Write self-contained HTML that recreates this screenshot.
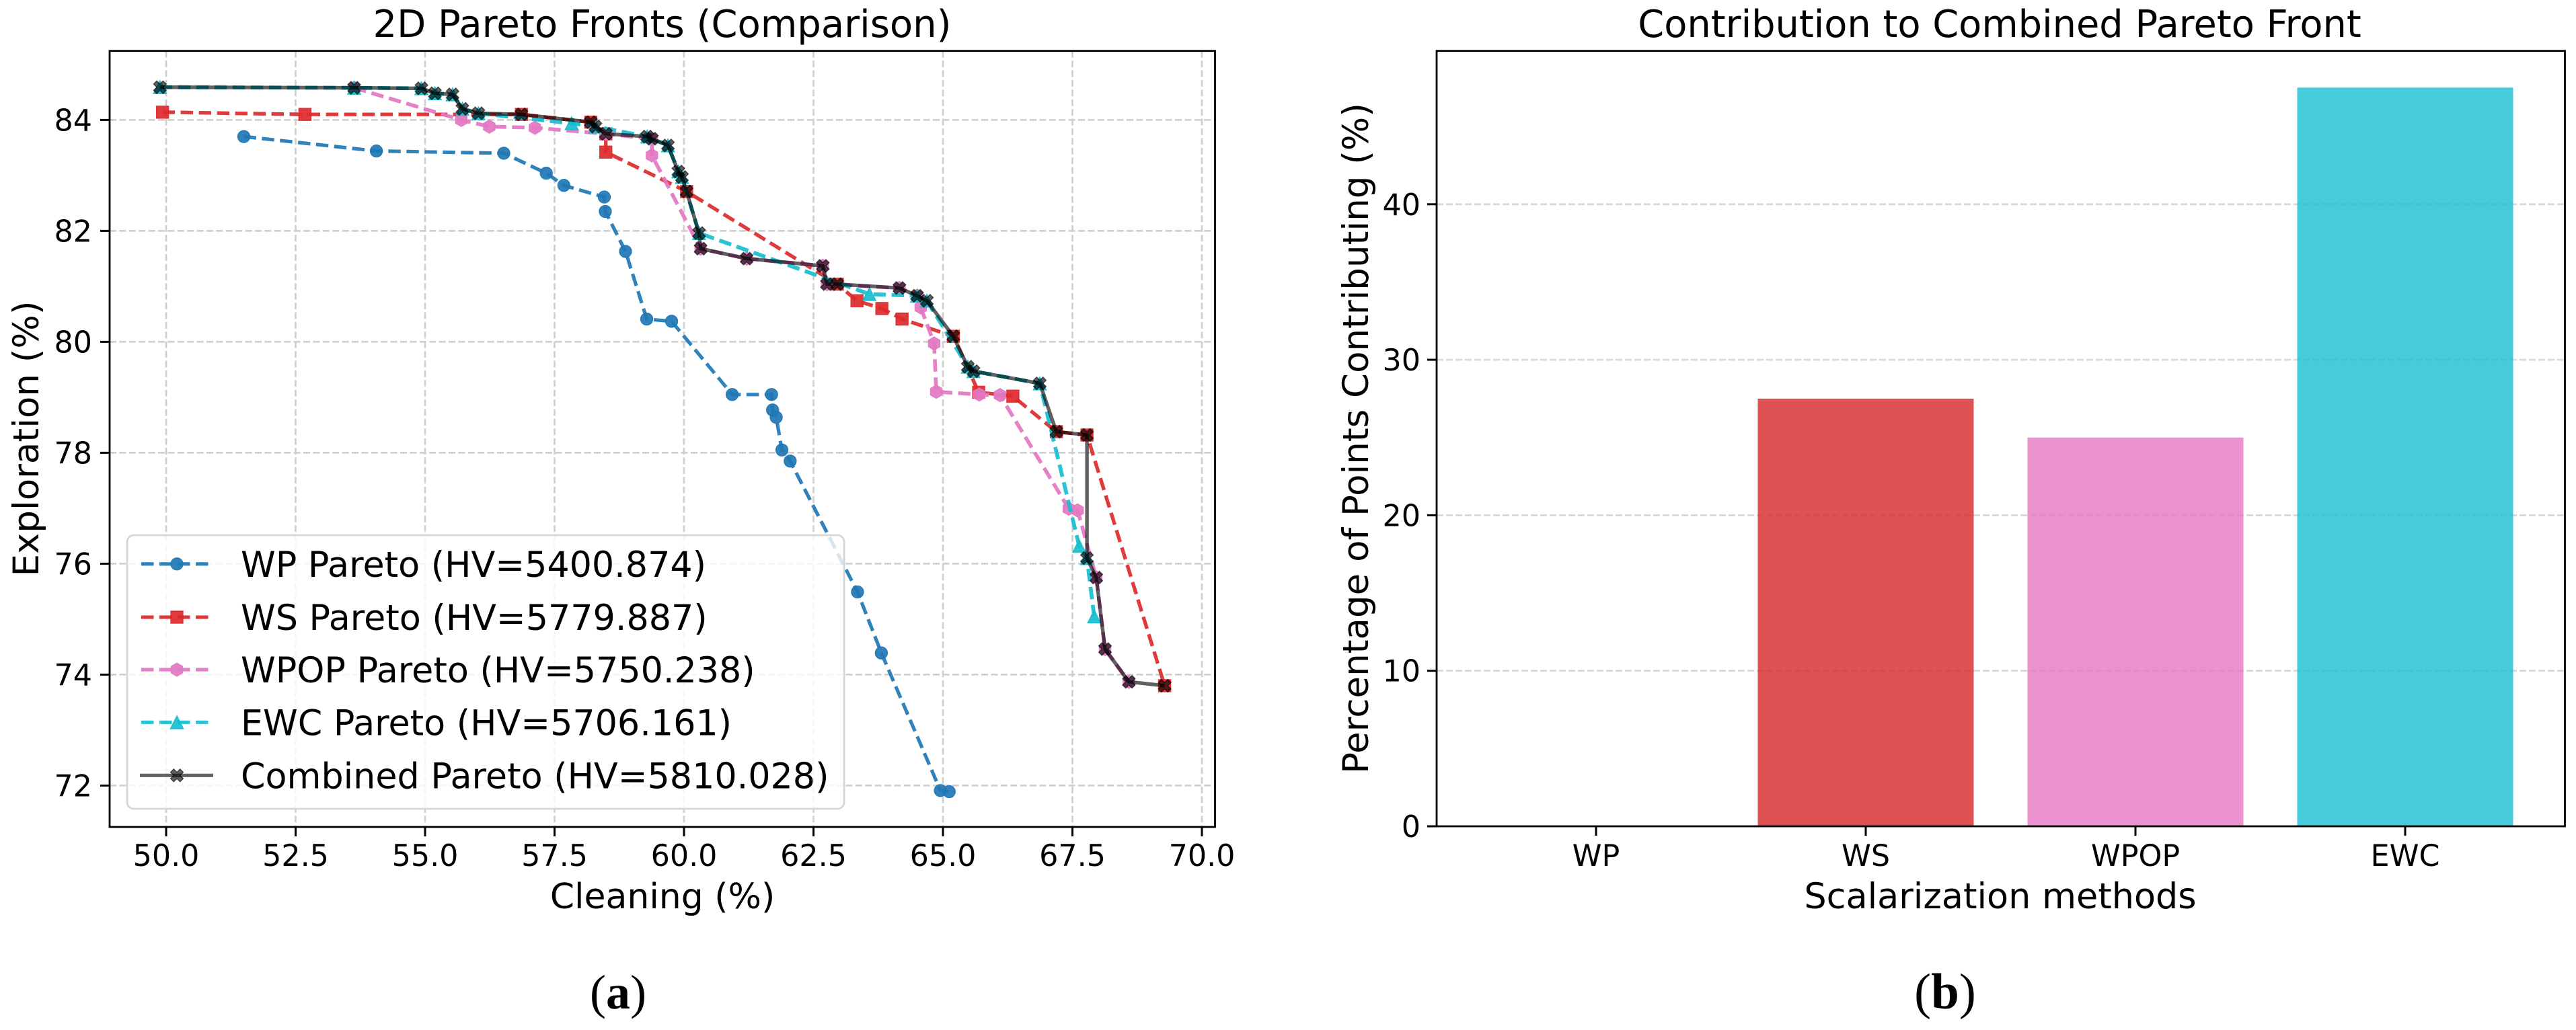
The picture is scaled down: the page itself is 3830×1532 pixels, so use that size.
<!DOCTYPE html>
<html lang="en">
<head>
<meta charset="utf-8">
<title>Pareto Fronts Comparison</title>
<style>
html,body{margin:0;padding:0;background:#fff;}
svg{display:block;font-family:"DejaVu Sans","Liberation Sans",sans-serif;}
</style>
</head>
<body>
<svg id="fig" xmlns="http://www.w3.org/2000/svg" width="3830" height="1532" viewBox="0 0 3830 1532">
  <rect width="3830" height="1532" fill="#fff"/>
  <g id="left"></g>
  <g id="right"></g>
  <text x="919" y="1500" text-anchor="middle" font-size="72" style="font-family:'Liberation Serif',serif">(<tspan font-weight="bold">a</tspan>)</text>
  <text x="2892" y="1500" text-anchor="middle" font-size="75" style="font-family:'Liberation Serif',serif">(<tspan font-weight="bold">b</tspan>)</text>
</svg>
<script>
// ---------- Chart data ----------
const xTickValues = [50, 52.5, 55, 57.5, 60, 62.5, 65, 67.5, 70];
const xTickLabels = ["50.0", "52.5", "55.0", "57.5", "60.0", "62.5", "65.0", "67.5", "70.0"];
const yTickValues = [72, 74, 76, 78, 80, 82, 84];
const yTickLabels = ["72", "74", "76", "78", "80", "82", "84"];

const wpCleaning = [51.50, 54.06, 56.52, 57.34, 57.68, 58.46, 58.48, 58.87, 59.28, 59.76, 60.93, 61.69, 61.71, 61.78, 61.89, 62.05, 63.35, 63.81, 64.95, 65.12];
const wpExploration = [83.70, 83.44, 83.40, 83.04, 82.82, 82.61, 82.35, 81.63, 80.41, 80.37, 79.05, 79.05, 78.77, 78.64, 78.05, 77.85, 75.49, 74.39, 71.91, 71.89];

const wsCleaning = [49.93, 52.68, 56.86, 58.20, 58.49, 58.49, 60.05, 62.96, 63.34, 63.82, 64.21, 65.20, 65.69, 66.35, 67.19, 67.78, 69.28];
const wsExploration = [84.14, 84.10, 84.10, 83.96, 83.75, 83.42, 82.71, 81.04, 80.74, 80.60, 80.41, 80.10, 79.09, 79.02, 78.38, 78.32, 73.80];

const wpopCleaning = [53.63, 55.70, 56.24, 57.12, 58.49, 59.38, 59.38, 60.32, 61.21, 62.68, 62.76, 64.16, 64.50, 64.57, 64.83, 64.87, 65.70, 66.10, 67.43, 67.60, 67.96, 68.13, 68.59];
const wpopExploration = [84.58, 84.00, 83.88, 83.86, 83.75, 83.66, 83.36, 81.68, 81.50, 81.37, 81.04, 80.97, 80.83, 80.62, 79.97, 79.10, 79.05, 79.04, 76.99, 76.96, 75.75, 74.46, 73.87];

const ewcCleaning = [49.88, 53.63, 54.93, 55.19, 55.53, 55.72, 56.03, 57.83, 58.29, 59.29, 59.69, 59.89, 59.96, 60.29, 63.58, 64.50, 64.69, 65.48, 65.59, 66.87, 67.63, 67.78, 67.92];
const ewcExploration = [84.59, 84.58, 84.57, 84.48, 84.46, 84.20, 84.12, 83.94, 83.88, 83.70, 83.54, 83.07, 82.97, 81.96, 80.86, 80.83, 80.74, 79.55, 79.47, 79.25, 76.32, 76.10, 75.05];

const combinedCleaning = [49.88, 53.63, 54.93, 55.19, 55.53, 55.72, 56.03, 56.86, 58.20, 58.29, 58.49, 59.29, 59.38, 59.69, 59.89, 59.96, 60.05, 60.29, 60.32, 61.21, 62.68, 62.76, 62.96, 64.16, 64.50, 64.69, 65.20, 65.48, 65.59, 66.87, 67.19, 67.78, 67.78, 67.96, 68.13, 68.59, 69.28];
const combinedExploration = [84.59, 84.58, 84.57, 84.48, 84.46, 84.20, 84.12, 84.10, 83.96, 83.88, 83.75, 83.70, 83.66, 83.54, 83.07, 82.97, 82.71, 81.96, 81.68, 81.50, 81.37, 81.04, 81.04, 80.97, 80.83, 80.74, 80.10, 79.55, 79.47, 79.25, 78.38, 78.32, 76.10, 75.75, 74.46, 73.87, 73.80];

const legendLabels = ["WP Pareto (HV=5400.874)", "WS Pareto (HV=5779.887)", "WPOP Pareto (HV=5750.238)", "EWC Pareto (HV=5706.161)", "Combined Pareto (HV=5810.028)"];

const barCategories = ["WP", "WS", "WPOP", "EWC"];
const barValues = [0, 27.5, 25, 47.5];
const barYTickValues = [0, 10, 20, 30, 40];
const barYTickLabels = ["0", "10", "20", "30", "40"];

// ---------- Helpers ----------
const NS = "http://www.w3.org/2000/svg";
const leftG = document.getElementById("left");
const rightG = document.getElementById("right");

function mk(parent, tag, attrs, content) {
  const el = document.createElementNS(NS, tag);
  for (const k in attrs) el.setAttribute(k, attrs[k]);
  if (content !== undefined) el.textContent = content;
  parent.appendChild(el);
  return el;
}
function named(el, name) {
  
  
  return el;
}

// ---------- Left axes ----------
const L = { left: 163, right: 1806.5, top: 75.7, bottom: 1230 };
function xScale(v) { return 247 + (v - 50) * 77; }
function yScale(v) { return 178.4 + (84 - v) * 82.5; }

const GRID_L = { stroke: "#d0d0d0", "stroke-width": 2.7, "stroke-dasharray": "10 4.4", fill: "none" };
const GRID_R = { stroke: "#d9d9d9", "stroke-width": 2.8, "stroke-dasharray": "10 4", fill: "none" };

xTickValues.forEach((v, i) => {
  const px = xScale(v);
  named(mk(leftG, "line", Object.assign({ x1: px, x2: px, y1: L.top, y2: L.bottom }, GRID_L)), "x-gridline");
  named(mk(leftG, "line", { x1: px, x2: px, y1: L.bottom, y2: L.bottom + 14, stroke: "#000", "stroke-width": 3 }), "x-tick");
  named(mk(leftG, "text", { x: px, y: 1288, "text-anchor": "middle", "font-size": 44.4 }, xTickLabels[i]), "x-tick-label");
});
yTickValues.forEach((v, i) => {
  const py = yScale(v);
  named(mk(leftG, "line", Object.assign({ x1: L.left, x2: L.right, y1: py, y2: py }, GRID_L)), "y-gridline");
  named(mk(leftG, "line", { x1: L.left - 14, x2: L.left, y1: py, y2: py, stroke: "#000", "stroke-width": 3 }), "y-tick");
  named(mk(leftG, "text", { x: 137, y: py + 16, "text-anchor": "end", "font-size": 44.4 }, yTickLabels[i]), "y-tick-label");
});

function markerShape(parent, kind, cx, cy, color, opacity) {
  const paint = { fill: color, "fill-opacity": opacity, stroke: color, "stroke-opacity": opacity, "stroke-width": 1.4 };
  let el;
  if (kind === "circle") {
    el = mk(parent, "circle", Object.assign({ cx: cx, cy: cy, r: 9 }, paint));
  } else if (kind === "square") {
    el = mk(parent, "rect", Object.assign({ x: cx - 9, y: cy - 9, width: 18, height: 18 }, paint));
  } else if (kind === "hex") {
    const r = 9.8, pts = [];
    for (let a = 0; a < 6; a++) {
      const t = Math.PI / 3 * a - Math.PI / 2;
      pts.push((cx + r * Math.cos(t)).toFixed(1) + "," + (cy + r * Math.sin(t)).toFixed(1));
    }
    el = mk(parent, "polygon", Object.assign({ points: pts.join(" ") }, paint));
  } else if (kind === "triangle") {
    const pts = [[0, -9.6], [9.6, 9.6], [-9.6, 9.6]].map(p => (cx + p[0]) + "," + (cy + p[1]));
    el = mk(parent, "polygon", Object.assign({ points: pts.join(" ") }, paint));
  } else {
    const s = 9.4, t = s / 2;
    const off = [[-t, -s], [0, -t], [t, -s], [s, -t], [t, 0], [s, t], [t, s], [0, t], [-t, s], [-s, t], [-t, 0], [-s, -t]];
    el = mk(parent, "polygon", Object.assign({ points: off.map(p => (cx + p[0]) + "," + (cy + p[1])).join(" ") }, paint));
  }
  return el;
}

function drawSeries(name, xs, ys, color, kind, dashed, lw, opacity) {
  const g = mk(leftG, "g", {});
  named(g, name + "-series");
  const pts = xs.map((x, i) => xScale(x).toFixed(1) + "," + yScale(ys[i]).toFixed(1)).join(" ");
  const attrs = { points: pts, fill: "none", stroke: color, "stroke-width": lw, opacity: opacity, "stroke-linejoin": "round" };
  if (dashed) attrs["stroke-dasharray"] = "18.5 8.5";
  named(mk(g, "polyline", attrs), name + "-line");
  xs.forEach((x, i) => {
    named(markerShape(g, kind, xScale(x), yScale(ys[i]), color, opacity), name + "-point");
  });
}

drawSeries("wp", wpCleaning, wpExploration, "#1f77b4", "circle", true, 5.2, 0.92);
drawSeries("ws", wsCleaning, wsExploration, "#dc2a2c", "square", true, 5.4, 0.92);
drawSeries("wpop", wpopCleaning, wpopExploration, "#e377c2", "hex", true, 5.6, 0.92);
drawSeries("ewc", ewcCleaning, ewcExploration, "#17becf", "triangle", true, 5.8, 0.92);
drawSeries("combined", combinedCleaning, combinedExploration, "#000000", "x", false, 5.4, 0.62);

// Legend
const legendG = mk(leftG, "g", {});
named(legendG, "legend");
named(mk(legendG, "rect", { x: 189, y: 796, width: 1066, height: 407, rx: 10, ry: 10, fill: "#fff", "fill-opacity": 0.8, stroke: "#d6d6d6", "stroke-width": 2.8 }), "legend-frame");
const legendStyles = [
  { color: "#1f77b4", kind: "circle", dashed: true },
  { color: "#dc2a2c", kind: "square", dashed: true },
  { color: "#e377c2", kind: "hex", dashed: true },
  { color: "#17becf", kind: "triangle", dashed: true },
  { color: "#000000", kind: "x", dashed: false }
];
const legendRowY = [838.8, 918, 996, 1074.3, 1153.3];
legendLabels.forEach((label, i) => {
  const st = legendStyles[i], cy = legendRowY[i];
  const entry = mk(legendG, "g", {});
  named(entry, "legend-entry");
  const a = { x1: st.dashed ? 210 : 208, x2: st.dashed ? 316 : 317, y1: cy, y2: cy, stroke: st.color, "stroke-width": 5.2, opacity: st.dashed ? 0.92 : 0.6 };
  if (st.dashed) a["stroke-dasharray"] = "18.5 8.5";
  named(mk(entry, "line", a), "legend-line");
  named(markerShape(entry, st.kind, 263, cy, st.color, st.dashed ? 0.92 : 0.62), "legend-marker");
  named(mk(entry, "text", { x: 358, y: legendRowY[i] + 19, "font-size": 52.3 }, label), "legend-label");
});

// Left spines and labels
named(mk(leftG, "rect", { x: L.left, y: L.top, width: L.right - L.left, height: L.bottom - L.top, fill: "none", stroke: "#000", "stroke-width": 2.8 }), "plot-frame");
named(mk(leftG, "text", { x: 984.5, y: 55, "text-anchor": "middle", "font-size": 56 }, "2D Pareto Fronts (Comparison)"), "chart-title");
named(mk(leftG, "text", { x: 985, y: 1351, "text-anchor": "middle", "font-size": 52 }, "Cleaning (%)"), "x-axis-title");
named(mk(leftG, "text", { x: 0, y: 0, "text-anchor": "middle", "font-size": 53, transform: "translate(57 652.5) rotate(-90)" }, "Exploration (%)"), "y-axis-title");

// ---------- Right axes ----------
const R = { left: 2136, right: 3813.5, top: 75.7, bottom: 1229 };
function barX(i) { return 2373 + i * 401; }
const barWidth = 321;
function barY(v) { return 1229 - v * 23.13; }
const barColors = ["#1f77b4", "#d62728", "#e377c2", "#17becf"];

barYTickValues.forEach((v, i) => {
  const py = barY(v);
  if (v !== 0) named(mk(rightG, "line", Object.assign({ x1: R.left, x2: R.right, y1: py, y2: py }, GRID_R)), "bar-y-gridline");
  named(mk(rightG, "line", { x1: R.left - 14, x2: R.left, y1: py, y2: py, stroke: "#000", "stroke-width": 3 }), "bar-y-tick");
  named(mk(rightG, "text", { x: 2112, y: py + 16, "text-anchor": "end", "font-size": 44.4 }, barYTickLabels[i]), "bar-y-tick-label");
});
barCategories.forEach((c, i) => {
  const px = barX(i);
  const bar = mk(rightG, "rect", { x: px - barWidth / 2, y: barY(barValues[i]), width: barWidth, height: barY(0) - barY(barValues[i]), fill: barColors[i], opacity: 0.8 });
  
  
  named(mk(rightG, "line", { x1: px, x2: px, y1: R.bottom, y2: R.bottom + 14, stroke: "#000", "stroke-width": 3 }), "bar-x-tick");
  named(mk(rightG, "text", { x: px, y: 1288, "text-anchor": "middle", "font-size": 44.4 }, c), "bar-x-tick-label");
});
named(mk(rightG, "rect", { x: R.left, y: R.top, width: R.right - R.left, height: R.bottom - R.top, fill: "none", stroke: "#000", "stroke-width": 2.8 }), "bar-plot-frame");
named(mk(rightG, "text", { x: 2973, y: 55, "text-anchor": "middle", "font-size": 55.8 }, "Contribution to Combined Pareto Front"), "bar-chart-title");
named(mk(rightG, "text", { x: 2974, y: 1351, "text-anchor": "middle", "font-size": 52.4 }, "Scalarization methods"), "bar-x-axis-title");
named(mk(rightG, "text", { x: 0, y: 0, "text-anchor": "middle", "font-size": 53, transform: "translate(2034 652) rotate(-90)" }, "Percentage of Points Contributing (%)"), "bar-y-axis-title");
</script>
</body>
</html>
